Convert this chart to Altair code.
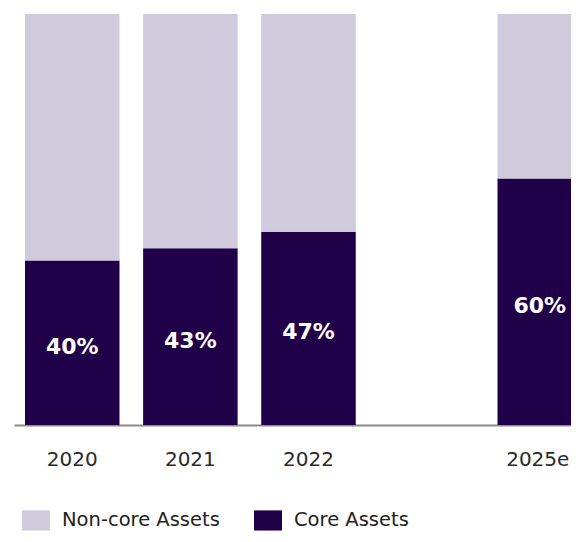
import altair as alt
import pandas as pd

years = ["2020", "2021", "2022", "2025e"]
core = [40, 43, 47, 60]
noncore = [60, 57, 53, 40]
x_domain = ["2020", "2021", "2022", "gap", "2025e"]
series = ["Non-core Assets", "Core Assets"]
colors = ["#cfcbdd", "#200048"]

rows = []
for y, c, n in zip(years, core, noncore):
    rows.append({"year": y, "series": "Core Assets", "value": c, "ord": 0})
    rows.append({"year": y, "series": "Non-core Assets", "value": n, "ord": 1})
df = pd.DataFrame(rows)
lab = pd.DataFrame({"year": years, "core": core, "mid": [c / 2 for c in core],
                    "txt": [f"{c}%" for c in core]})

xscale = alt.Scale(domain=x_domain, range=[0, 589], paddingInner=0.2, paddingOuter=0.093)

xenc = alt.X("year:N", scale=xscale,
             axis=alt.Axis(title=None, labelAngle=0, ticks=False, domainColor="#8a8a8a",
                           domainWidth=2, labelColor="#2a2a2a", labelFontSize=20,
                           labelPadding=24, labelFont="DejaVu Sans",
                           labelOffset={"condition": {"test": "datum.value == '2025e'",
                                                      "value": -7}, "value": 0},
                           labelExpr="datum.value == 'gap' ? '' : datum.value"))

bars = alt.Chart(df).mark_bar().encode(
    x=xenc,
    y=alt.Y("value:Q", stack="zero", scale=alt.Scale(domain=[0, 100], nice=False), axis=None),
    color=alt.Color("series:N", scale=alt.Scale(domain=series, range=colors),
                    legend=alt.Legend(title=None, orient="none", legendX=8, legendY=492,
                                      direction="horizontal",
                                      symbolType="M-1,-0.72L1,-0.72L1,0.72L-1,0.72Z",
                                      symbolSize=784, symbolStrokeWidth=0, symbolOpacity=1,
                                      labelFontSize=19.5, labelFont="DejaVu Sans",
                                      labelColor="#222222", labelOffset=12,
                                      columnPadding=34)),
    order=alt.Order("ord:Q"),
)

text_main = alt.Chart(lab).transform_filter("datum.year != '2025e'").mark_text(
    color="white", fontSize=22, fontWeight="bold", font="DejaVu Sans", dy=4).encode(
    x=alt.X("year:N", scale=xscale),
    y=alt.Y("mid:Q"),
    text="txt:N",
)

text_last = alt.Chart(lab).transform_filter("datum.year == '2025e'").mark_text(
    color="white", fontSize=22, fontWeight="bold", font="DejaVu Sans", dy=4, dx=-5).encode(
    x=alt.X("year:N", scale=xscale),
    y=alt.Y("mid:Q"),
    text="txt:N",
)

chart = alt.layer(bars, text_main, text_last).properties(
    width=557, height=411,
    autosize=alt.AutoSizeParams(type="none"),
    padding={"left": 6, "top": 6, "right": 0, "bottom": 109},
).configure_view(stroke=None)

chart.save("out.html", embed_options={"renderer": "svg", "actions": False})
